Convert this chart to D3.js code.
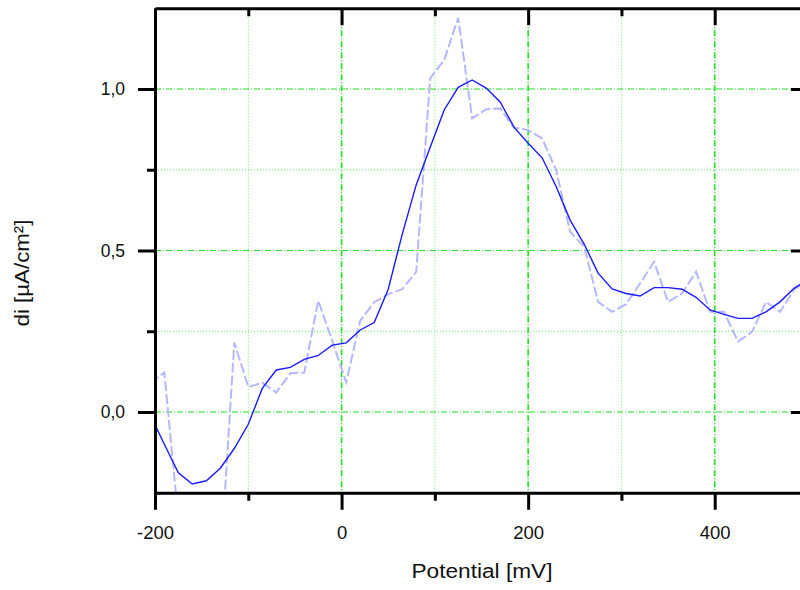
<!DOCTYPE html>
<html>
<head>
<meta charset="utf-8">
<script src="https://cdn.jsdelivr.net/npm/d3@7"></script>
<style>
  body { margin: 0; background: #fff; }
  svg { display: block; font-family: "Liberation Sans", Arial, sans-serif; }
  .axis path, .axis line { stroke: #000; stroke-width: 3px; }
  .axis text { fill: #111; }
</style>
</head>
<body>
<div class="content"></div>
<script>
//--> Data
const potential = [-205, -190, -175, -160, -145, -130, -115, -100, -85, -70, -55, -40,
  -25, -10, 5, 20, 35, 50, 65, 80, 95, 110, 125, 140, 155, 170, 185, 200, 215, 230,
  245, 260, 275, 290, 305, 320, 335, 350, 365, 380, 395, 410, 425, 440, 455, 470, 485, 500];

const smoothed = [-0.01, -0.10, -0.188, -0.223, -0.213, -0.174, -0.113, -0.038, 0.073, 0.13,
  0.138, 0.163, 0.175, 0.207, 0.214, 0.254, 0.277, 0.38, 0.55, 0.703, 0.82, 0.935, 1.005,
  1.028, 1.003, 0.96, 0.881, 0.832, 0.787, 0.698, 0.594, 0.52, 0.43, 0.381, 0.367, 0.359,
  0.385, 0.385, 0.38, 0.355, 0.316, 0.302, 0.29, 0.29, 0.31, 0.341, 0.383, 0.41];

const raw = [0.09, 0.122, -0.33, -0.55, -0.5, -0.48, 0.215, 0.078, 0.09, 0.06, 0.12, 0.122,
  0.345, 0.22, 0.092, 0.283, 0.34, 0.365, 0.38, 0.434, 1.033, 1.09, 1.22, 0.909, 0.937,
  0.94, 0.88, 0.873, 0.847, 0.749, 0.558, 0.512, 0.341, 0.31, 0.334, 0.398, 0.465, 0.341,
  0.367, 0.434, 0.31, 0.31, 0.218, 0.248, 0.341, 0.31, 0.378, 0.41];

const xMajor = [-200, 0, 200, 400];
const xMinor = [-100, 100, 300];
const yMajor = [0, 0.5, 1.0];
const yMinor = [0.25, 0.75];

//--> Constants
const margin = { top: 8.25, left: 155 };
const width = 653;
const height = 484.5;

const svg = d3.select(".content").append("svg")
  .attr("width", 800)
  .attr("height", 590);

const graph = svg.append("g")
  .attr("transform", `translate(${margin.left}, ${margin.top})`);

const x = d3.scaleLinear().domain([-200, 500]).range([0, width]);
const y = d3.scaleLinear().domain([-0.25, 1.25]).range([height, 0]);

const formatX = d => `${d}`;
const formatY = d => d3.format(".1f")(d).replace(".", ",");

//--> Grid
const grid = graph.append("g");
grid.selectAll(".vminor").data(xMinor).enter().append("line")
  .attr("x1", d => x(d)).attr("x2", d => x(d))
  .attr("y1", 0).attr("y2", height)
  .attr("stroke", "#66ee66").attr("stroke-width", 1).attr("stroke-dasharray", "1,2");
grid.selectAll(".hminor").data(yMinor).enter().append("line")
  .attr("x1", 0).attr("x2", width)
  .attr("y1", d => y(d)).attr("y2", d => y(d))
  .attr("stroke", "#66ee66").attr("stroke-width", 1).attr("stroke-dasharray", "1,2");
grid.selectAll(".vmajor").data(xMajor.slice(1)).enter().append("line")
  .attr("x1", d => x(d)).attr("x2", d => x(d))
  .attr("y1", 0).attr("y2", height)
  .attr("stroke", "#22dd22").attr("stroke-width", 1.6).attr("stroke-dasharray", "6,2,1,2");
grid.selectAll(".hmajor").data(yMajor).enter().append("line")
  .attr("x1", 0).attr("x2", width)
  .attr("y1", d => y(d)).attr("y2", d => y(d))
  .attr("stroke", "#22dd22").attr("stroke-width", 1).attr("stroke-dasharray", "6,2,1,2");

//--> Lines
svg.append("clipPath").attr("id", "clip")
  .append("rect").attr("width", width).attr("height", height);

const line = vals => d3.line()
  .x((d, i) => x(potential[i]))
  .y(d => y(d))(vals);

const plot = graph.append("g").attr("clip-path", "url(#clip)");
plot.append("path")
  .attr("d", line(raw))
  .attr("fill", "none")
  .attr("stroke", "#b6b8ff")
  .attr("stroke-width", 2)
  .attr("stroke-dasharray", "10,3");
plot.append("path")
  .attr("d", line(smoothed))
  .attr("fill", "none")
  .attr("stroke", "#1a1aff")
  .attr("stroke-width", 1.4);

//--> Axes
const styleAxis = (g, size) => g.attr("class", "axis")
  .style("font-family", "'Liberation Sans', Arial, sans-serif")
  .style("font-size", `${size}px`);

graph.append("g")
  .attr("transform", `translate(0, ${height})`)
  .call(d3.axisBottom(x).tickValues(xMajor).tickSize(17).tickSizeOuter(0).tickPadding(16).tickFormat(formatX))
  .call(g => styleAxis(g, 18.5));
graph.append("g")
  .attr("transform", `translate(0, ${height})`)
  .call(d3.axisBottom(x).tickValues(xMinor).tickSize(8).tickFormat(""))
  .call(g => styleAxis(g, 18.5))
  .call(g => g.select(".domain").remove());

graph.append("g")
  .call(d3.axisTop(x).tickValues(xMajor).tickSize(-17).tickSizeOuter(0).tickFormat(""))
  .call(g => styleAxis(g, 18.5));
graph.append("g")
  .call(d3.axisTop(x).tickValues(xMinor).tickSize(-8).tickFormat(""))
  .call(g => styleAxis(g, 18.5))
  .call(g => g.select(".domain").remove());

graph.append("g")
  .call(d3.axisLeft(y).tickValues(yMajor).tickSize(17).tickSizeOuter(0).tickPadding(13).tickFormat(formatY))
  .call(g => styleAxis(g, 17.5));
graph.append("g")
  .call(d3.axisLeft(y).tickValues(yMinor).tickSize(8).tickFormat(""))
  .call(g => styleAxis(g, 17.5))
  .call(g => g.select(".domain").remove());

graph.append("g")
  .attr("transform", `translate(${width}, 0)`)
  .call(d3.axisRight(y).tickValues(yMajor).tickSize(-17).tickSizeOuter(0).tickFormat(""))
  .call(g => styleAxis(g, 17.5));
graph.append("g")
  .attr("transform", `translate(${width}, 0)`)
  .call(d3.axisRight(y).tickValues(yMinor).tickSize(-8).tickFormat(""))
  .call(g => styleAxis(g, 17.5))
  .call(g => g.select(".domain").remove());

//--> Axis titles
svg.append("text")
  .attr("x", 482)
  .attr("y", 578)
  .attr("text-anchor", "middle")
  .attr("textLength", 141)
  .attr("lengthAdjust", "spacingAndGlyphs")
  .style("font-size", "20px")
  .attr("fill", "#111")
  .text("Potential [mV]");

svg.append("text")
  .attr("transform", "translate(29, 273) rotate(-90)")
  .attr("text-anchor", "middle")
  .attr("textLength", 107)
  .attr("lengthAdjust", "spacingAndGlyphs")
  .style("font-size", "20px")
  .attr("fill", "#111")
  .text("di [µA/cm²]");
</script>
</body>
</html>
